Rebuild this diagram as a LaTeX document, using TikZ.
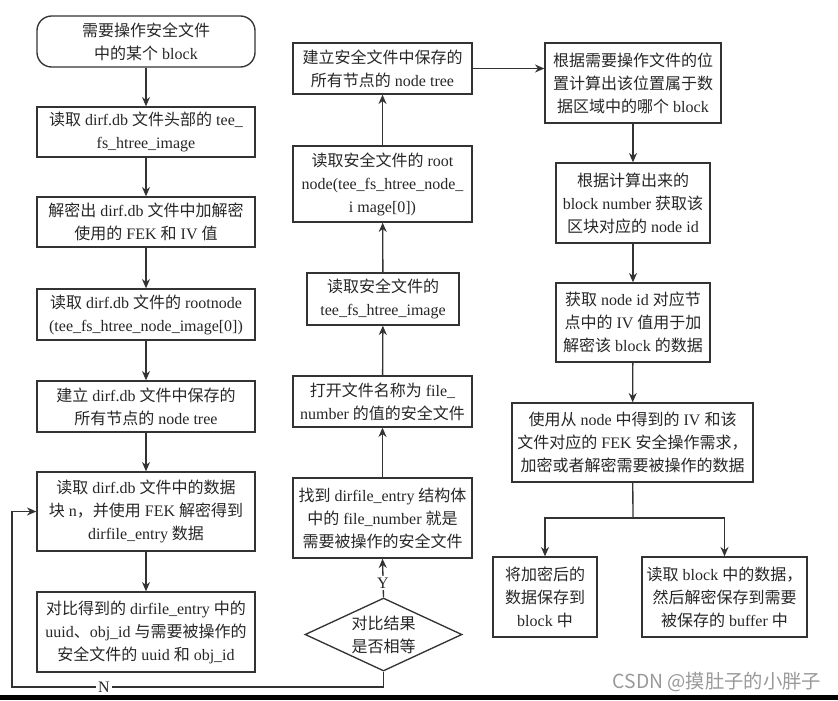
\documentclass[tikz,border=0pt]{standalone}
\usepackage{fontspec}
\setmainfont{Liberation Serif}
\newfontfamily\cjkfont{Noto Sans CJK SC}
\usetikzlibrary{arrows.meta,
shapes.geometric
}
% Chinese characters switch to the CJK font by themselves
\XeTeXinterchartokenstate=1
\newXeTeXintercharclass\cjkclass
\newcount\cjkcode
\cjkcode="4E00
\loop\XeTeXcharclass\cjkcode=\cjkclass\advance\cjkcode by 1 \ifnum\cjkcode<"A000 \repeat
\cjkcode="3000
\loop\XeTeXcharclass\cjkcode=\cjkclass\advance\cjkcode by 1 \ifnum\cjkcode<"3040 \repeat
\cjkcode="FF00
\loop\XeTeXcharclass\cjkcode=\cjkclass\advance\cjkcode by 1 \ifnum\cjkcode<"FFF0 \repeat
\XeTeXinterchartoks 0 \cjkclass = {\cjkfont}
\XeTeXinterchartoks 4095 \cjkclass = {\cjkfont}
\XeTeXinterchartoks \cjkclass 0 = {\rmfamily}
\XeTeXinterchartoks \cjkclass 4095 = {\rmfamily}
\tikzset{>={Stealth[length=7pt,width=6pt]}}

\begin{document}
\begin{tikzpicture}[x=0.75pt, y=-0.75pt, line width=1pt, draw=black!80,
        every node/.style={font=\fontsize{12}{17.25}\selectfont, text=black!85},
        proc/.style={draw, align=center, inner sep=0pt},
        lbox/.style={proc, minimum width=163.5pt},
        mbox/.style={proc, minimum width=134.25pt},
        startbox/.style={lbox, rounded corners=11pt},
        choice/.style={diamond, draw, align=center, inner sep=0pt, aspect=2.1,
            minimum width=117.75pt, minimum height=54.75pt}]
        \useasboundingbox (0, 0) rectangle (838, 700);
        \fill[black] (0, 695) rectangle (838, 700);
        % left column
        \node[startbox, minimum height=38.25pt] (l1) at (146, 41.5) {需要操作安全文件\\中的某个 block};
        \node[lbox, minimum height=37.5pt] (l2) at (146, 132) {读取 dirf.db 文件头部的 tee\_\\fs\_htree\_image};
        \node[lbox, minimum height=37.5pt] (l3) at (146, 222) {解密出 dirf.db 文件中加解密\\使用的 FEK 和 IV 值};
        \node[lbox, minimum height=38.25pt] (l4) at (146, 314.5) {读取 dirf.db 文件的 rootnode\\(tee\_fs\_htree\_node\_image[0])};
        \node[lbox, minimum height=38.25pt] (l5) at (146, 406.5) {建立 dirf.db 文件中保存的\\所有节点的 node tree};
        \node[lbox, minimum height=59.25pt] (l6) at (146, 511.5) {读取 dirf.db 文件中的数据\\块 n，并使用 FEK 解密得到\\dirfile\_entry 数据};
        \node[lbox, minimum height=60pt] (l7) at (146, 632) {对比得到的 dirfile\_entry 中的\\uuid、obj\_id 与需要被操作的\\安全文件的 uuid 和 obj\_id};
        % middle column
        \node[mbox, minimum height=38.25pt] (m1) at (382.5, 68.5) {建立安全文件中保存的\\所有节点的 node tree};
        \node[mbox, minimum height=57pt] (m2) at (382.5, 184) {读取安全文件的 root\\node(tee\_fs\_htree\_node\_\\i mage[0])};
        \node[proc, minimum width=114pt, minimum height=39pt] (m3) at (383, 299) {读取安全文件的\\tee\_fs\_htree\_image};
        \node[mbox, minimum height=38.25pt] (m4) at (382.5, 401.5) {打开文件名称为 file\_\\number 的值的安全文件};
        \node[mbox, minimum height=60pt] (m5) at (382.5, 518) {找到 dirfile\_entry 结构体\\中的 file\_number 就是\\需要被操作的安全文件};
        \node[choice] (dec) at (383.5, 634.5) {对比结果\\是否相等};
        % right column
        \node[proc, minimum width=132pt, minimum height=60pt] (r1) at (633, 83) {根据需要操作文件的位\\置计算出该位置属于数\\据区域中的哪个 block};
        \node[proc, minimum width=115.5pt, minimum height=60pt] (r2) at (633, 203) {根据计算出来的\\block number 获取该\\区块对应的 node id};
        \node[proc, minimum width=115.5pt, minimum height=59.25pt] (r3) at (633, 322.5) {获取 node id 对应节\\点中的 IV 值用于加\\解密该 block 的数据};
        \node[proc, minimum width=180.75pt, minimum height=59.25pt] (r4) at (632.5, 442.5) {使用从 node 中得到的 IV 和该\\文件对应的 FEK 安全操作需求，\\加密或者解密需要被操作的数据};
        \node[proc, minimum width=78pt, minimum height=60pt] (r5) at (545, 597) {将加密后的\\数据保存到\\block 中};
        \node[proc, minimum width=123.75pt, minimum height=60pt] (r6) at (724.5, 597) {读取 block 中的数据，\\然后解密保存到需要\\被保存的 buffer 中};
        \coordinate (fork) at (633, 518);
        \coordinate (lpbot) at (12, 687);
        % arrows
        \draw[->] (l1) -- (l2);
        \draw[->] (l2) -- (l3);
        \draw[->] (l3) -- (l4);
        \draw[->] (l4) -- (l5);
        \draw[->] (l5) -- (l6);
        \draw[->] (l6) -- (l7);
        \draw[->] (dec.north) -- (m5.south);
        \draw[->] (m5) -- (m4);
        \draw[->] (m4) -- (m3);
        \draw[->] (m3) -- (m2);
        \draw[->] (m2) -- (m1);
        \draw[->] (m1.east) -- (m1.east -| r1.west);
        \draw[->] (r1) -- (r2);
        \draw[->] (r2) -- (r3);
        \draw[->] (r3) -- (r4);
        \draw (r4) -- (fork);
        \draw[->] (fork) -| (r5);
        \draw[->] (fork) -| (r6);
        \draw[->] (dec.south) |- (lpbot) |- (l6.west);
        \node[fill=white, inner sep=1.5pt] (ymark) at (383, 583) {Y};
        \node[fill=white, inner sep=1.5pt] (nmark) at (104, 687) {N};
        \node[font=\fontsize{14.5}{16}\cjkfont, text=black!40] (mark) at (717, 682) {CSDN @摸肚子的小胖子};
\end{tikzpicture}
\end{document}
